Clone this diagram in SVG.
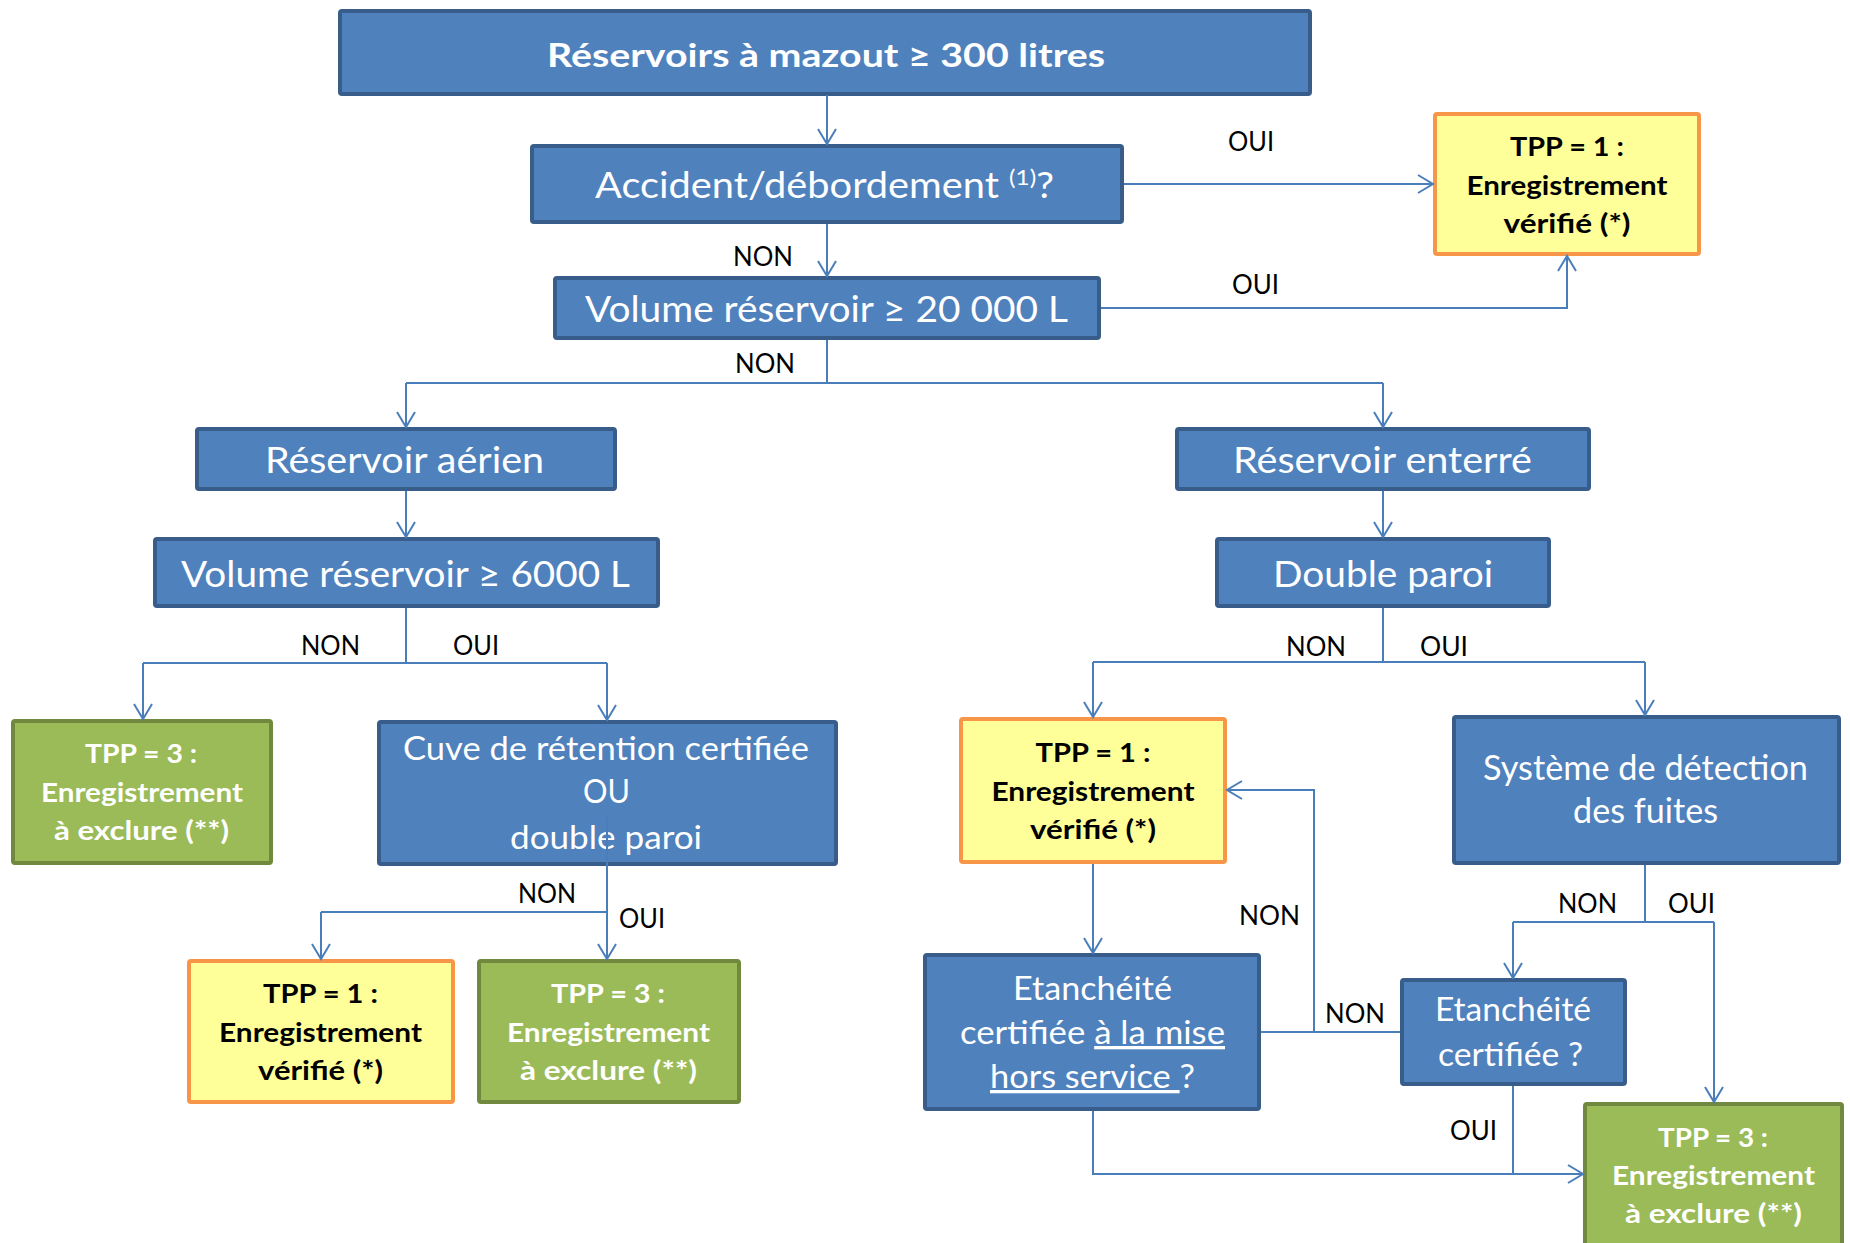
<svg xmlns="http://www.w3.org/2000/svg" width="1850" height="1243" viewBox="0 0 1850 1243">
<defs>
<style>
.blue{fill:#4f81bd;stroke:#385d8a;stroke-width:4}
.yel{fill:#ffff99;stroke:#f79646;stroke-width:4}
.grn{fill:#9bbb59;stroke:#71893f;stroke-width:4}
.t{font-family:Lato,"Liberation Sans",sans-serif;fill:#fff;text-anchor:middle}
.tb{font-family:Lato,"Liberation Sans",sans-serif;font-weight:bold;text-anchor:middle}
.w{fill:#fff}
.k{fill:#000}
.lbl{font-family:Lato,"Liberation Sans",sans-serif;font-size:26px;fill:#000}
.c{fill:none;stroke:#4a7ebb;stroke-width:2}
</style>
<marker id="ah" markerUnits="userSpaceOnUse" markerWidth="20" markerHeight="20" refX="16" refY="10" orient="auto">
<path d="M1,1 L16,10 L1,19" fill="none" stroke="#4a7ebb" stroke-width="2"/>
</marker>
</defs>
<rect width="1850" height="1243" fill="#fff"/>

<g id="n-top">
<rect class="blue" x="340" y="11" width="970" height="83" rx="2"/>
<text class="tb w" x="826" y="67" font-size="33" textLength="558" lengthAdjust="spacingAndGlyphs">Réservoirs à mazout ≥ 300 litres</text>
</g>
<g id="n-accident">
<rect class="blue" x="532" y="146" width="590" height="76" rx="2"/>
<text class="t" x="824.5" y="198" font-size="36" textLength="459" lengthAdjust="spacingAndGlyphs">Accident/débordement <tspan font-size="22" dy="-13">(1)</tspan><tspan dy="13">?</tspan></text>
</g>
<g id="n-vol20000">
<rect class="blue" x="555" y="278" width="544" height="60" rx="2"/>
<text class="t" x="826.5" y="322" font-size="36" textLength="483" lengthAdjust="spacingAndGlyphs">Volume réservoir ≥ 20 000 L</text>
</g>
<g id="n-tpp1-top">
<rect class="yel" x="1435" y="114" width="264" height="140" rx="2"/>
<text class="tb k" x="1567" y="156" font-size="26" textLength="114" lengthAdjust="spacingAndGlyphs">TPP = 1 :</text>
<text class="tb k" x="1567" y="195" font-size="26" textLength="201" lengthAdjust="spacingAndGlyphs">Enregistrement</text>
<text class="tb k" x="1567" y="233" font-size="26" textLength="127" lengthAdjust="spacingAndGlyphs">vérifié (*)</text>
</g>
<g id="n-aerien">
<rect class="blue" x="197" y="429" width="418" height="60" rx="2"/>
<text class="t" x="404.5" y="473" font-size="37" textLength="279" lengthAdjust="spacingAndGlyphs">Réservoir aérien</text>
</g>
<g id="n-enterre">
<rect class="blue" x="1177" y="429" width="412" height="60" rx="2"/>
<text class="t" x="1382.5" y="473" font-size="37" textLength="299" lengthAdjust="spacingAndGlyphs">Réservoir enterré</text>
</g>
<g id="n-vol6000">
<rect class="blue" x="155" y="539" width="503" height="67" rx="2"/>
<text class="t" x="405.5" y="587" font-size="37" textLength="449" lengthAdjust="spacingAndGlyphs">Volume réservoir ≥ 6000 L</text>
</g>
<g id="n-double">
<rect class="blue" x="1217" y="539" width="332" height="67" rx="2"/>
<text class="t" x="1383" y="587" font-size="37" textLength="220" lengthAdjust="spacingAndGlyphs">Double paroi</text>
</g>
<g id="n-tpp3-left">
<rect class="grn" x="13" y="721" width="258" height="142" rx="2"/>
<text class="tb w" x="141" y="763" font-size="26" textLength="112" lengthAdjust="spacingAndGlyphs">TPP = 3 :</text>
<text class="tb w" x="142" y="802" font-size="26" textLength="202" lengthAdjust="spacingAndGlyphs">Enregistrement</text>
<text class="tb w" x="141.5" y="840" font-size="26" textLength="175" lengthAdjust="spacingAndGlyphs">à exclure (**)</text>
</g>
<g id="n-cuve">
<rect class="blue" x="379" y="722" width="457" height="142" rx="2"/>
<text class="t" x="606" y="760" font-size="32" textLength="406" lengthAdjust="spacingAndGlyphs">Cuve de rétention certifiée</text>
<text class="t" x="606.5" y="803" font-size="32" textLength="47" lengthAdjust="spacingAndGlyphs">OU</text>
<text class="t" x="606" y="849" font-size="32" textLength="192" lengthAdjust="spacingAndGlyphs">double paroi</text>
</g>
<g id="n-tpp1-bl">
<rect class="yel" x="189" y="961" width="264" height="141" rx="2"/>
<text class="tb k" x="320.5" y="1003" font-size="26" textLength="115" lengthAdjust="spacingAndGlyphs">TPP = 1 :</text>
<text class="tb k" x="320.5" y="1042" font-size="26" textLength="203" lengthAdjust="spacingAndGlyphs">Enregistrement</text>
<text class="tb k" x="320.5" y="1080" font-size="26" textLength="125" lengthAdjust="spacingAndGlyphs">vérifié (*)</text>
</g>
<g id="n-tpp3-mid">
<rect class="grn" x="479" y="961" width="260" height="141" rx="2"/>
<text class="tb w" x="608" y="1003" font-size="26" textLength="114" lengthAdjust="spacingAndGlyphs">TPP = 3 :</text>
<text class="tb w" x="608.5" y="1042" font-size="26" textLength="203" lengthAdjust="spacingAndGlyphs">Enregistrement</text>
<text class="tb w" x="608.5" y="1080" font-size="26" textLength="177" lengthAdjust="spacingAndGlyphs">à exclure (**)</text>
</g>
<g id="n-tpp1-mr">
<rect class="yel" x="961" y="719" width="264" height="143" rx="2"/>
<text class="tb k" x="1093" y="762" font-size="26" textLength="115" lengthAdjust="spacingAndGlyphs">TPP = 1 :</text>
<text class="tb k" x="1093" y="801" font-size="26" textLength="203" lengthAdjust="spacingAndGlyphs">Enregistrement</text>
<text class="tb k" x="1093" y="839" font-size="26" textLength="126" lengthAdjust="spacingAndGlyphs">vérifié (*)</text>
</g>
<g id="n-systeme">
<rect class="blue" x="1454" y="717" width="385" height="146" rx="2"/>
<text class="t" x="1645.5" y="780" font-size="35" textLength="325" lengthAdjust="spacingAndGlyphs">Système de détection</text>
<text class="t" x="1645.5" y="823" font-size="35" textLength="145" lengthAdjust="spacingAndGlyphs">des fuites</text>
</g>
<g id="n-etanch-mise">
<rect class="blue" x="925" y="955" width="334" height="154" rx="2"/>
<text class="t" x="1092.5" y="1000" font-size="33" textLength="159" lengthAdjust="spacingAndGlyphs">Etanchéité</text>
<text class="t" x="1092.5" y="1044" font-size="33" textLength="265" lengthAdjust="spacingAndGlyphs">certifiée <tspan text-decoration="underline">à la mise</tspan></text>
<text class="t" x="1092.5" y="1088" font-size="33" textLength="205" lengthAdjust="spacingAndGlyphs"><tspan text-decoration="underline">hors service </tspan>?</text>
</g>
<g id="n-etanch-cert">
<rect class="blue" x="1402" y="980" width="223" height="104" rx="2"/>
<text class="t" x="1513" y="1021" font-size="33" textLength="156" lengthAdjust="spacingAndGlyphs">Etanchéité</text>
<text class="t" x="1510.5" y="1066" font-size="33" textLength="145" lengthAdjust="spacingAndGlyphs">certifiée ?</text>
</g>
<g id="n-tpp3-br">
<rect class="grn" x="1585" y="1104" width="257" height="160" rx="2"/>
<text class="tb w" x="1713" y="1147" font-size="26" textLength="110" lengthAdjust="spacingAndGlyphs">TPP = 3 :</text>
<text class="tb w" x="1713.5" y="1185" font-size="26" textLength="203" lengthAdjust="spacingAndGlyphs">Enregistrement</text>
<text class="tb w" x="1713.5" y="1223" font-size="26" textLength="177" lengthAdjust="spacingAndGlyphs">à exclure (**)</text>
</g>

<g id="connectors">
<path class="c" d="M827,95 V144" marker-end="url(#ah)"/>
<path class="c" d="M1124,184 H1433" marker-end="url(#ah)"/>
<path class="c" d="M827,224 V276" marker-end="url(#ah)"/>
<path class="c" d="M1101,308 H1567 V256" marker-end="url(#ah)"/>
<path class="c" d="M827,340 V383 M406,383 H1383"/>
<path class="c" d="M406,383 V427" marker-end="url(#ah)"/>
<path class="c" d="M1383,383 V427" marker-end="url(#ah)"/>
<path class="c" d="M406,491 V537" marker-end="url(#ah)"/>
<path class="c" d="M1383,491 V537" marker-end="url(#ah)"/>
<path class="c" d="M406,608 V663 M143,663 H607"/>
<path class="c" d="M143,663 V719" marker-end="url(#ah)"/>
<path class="c" d="M607,663 V720" marker-end="url(#ah)"/>
<path class="c" d="M607,817 V912 M321,912 H607"/>
<path class="c" d="M321,912 V959" marker-end="url(#ah)"/>
<path class="c" d="M607,912 V959" marker-end="url(#ah)"/>
<path class="c" d="M1383,608 V662 M1093,662 H1645"/>
<path class="c" d="M1093,662 V717" marker-end="url(#ah)"/>
<path class="c" d="M1645,662 V715" marker-end="url(#ah)"/>
<path class="c" d="M1093,864 V953" marker-end="url(#ah)"/>
<path class="c" d="M1261,1032 H1400 M1314,1032 V790 H1227" marker-end="url(#ah)"/>
<path class="c" d="M1645,865 V922 M1513,922 H1714"/>
<path class="c" d="M1513,922 V978" marker-end="url(#ah)"/>
<path class="c" d="M1714,922 V1102" marker-end="url(#ah)"/>
<path class="c" d="M1513,1086 V1174"/>
<path class="c" d="M1093,1111 V1174 H1583" marker-end="url(#ah)"/>
</g>

<g id="labels">
<text class="lbl" x="1228" y="151" textLength="46" lengthAdjust="spacingAndGlyphs">OUI</text>
<text class="lbl" x="1232" y="294" textLength="47" lengthAdjust="spacingAndGlyphs">OUI</text>
<text class="lbl" x="733" y="266" textLength="60" lengthAdjust="spacingAndGlyphs">NON</text>
<text class="lbl" x="735" y="373" textLength="60" lengthAdjust="spacingAndGlyphs">NON</text>
<text class="lbl" x="301" y="655" textLength="59" lengthAdjust="spacingAndGlyphs">NON</text>
<text class="lbl" x="453" y="655" textLength="46" lengthAdjust="spacingAndGlyphs">OUI</text>
<text class="lbl" x="1286" y="656" textLength="60" lengthAdjust="spacingAndGlyphs">NON</text>
<text class="lbl" x="1420" y="656" textLength="48" lengthAdjust="spacingAndGlyphs">OUI</text>
<text class="lbl" x="518" y="903" textLength="58" lengthAdjust="spacingAndGlyphs">NON</text>
<text class="lbl" x="619" y="928" textLength="46" lengthAdjust="spacingAndGlyphs">OUI</text>
<text class="lbl" x="1239" y="925" textLength="61" lengthAdjust="spacingAndGlyphs">NON</text>
<text class="lbl" x="1325" y="1023" textLength="60" lengthAdjust="spacingAndGlyphs">NON</text>
<text class="lbl" x="1558" y="913" textLength="59" lengthAdjust="spacingAndGlyphs">NON</text>
<text class="lbl" x="1668" y="913" textLength="47" lengthAdjust="spacingAndGlyphs">OUI</text>
<text class="lbl" x="1450" y="1140" textLength="47" lengthAdjust="spacingAndGlyphs">OUI</text>
</g>
</svg>
